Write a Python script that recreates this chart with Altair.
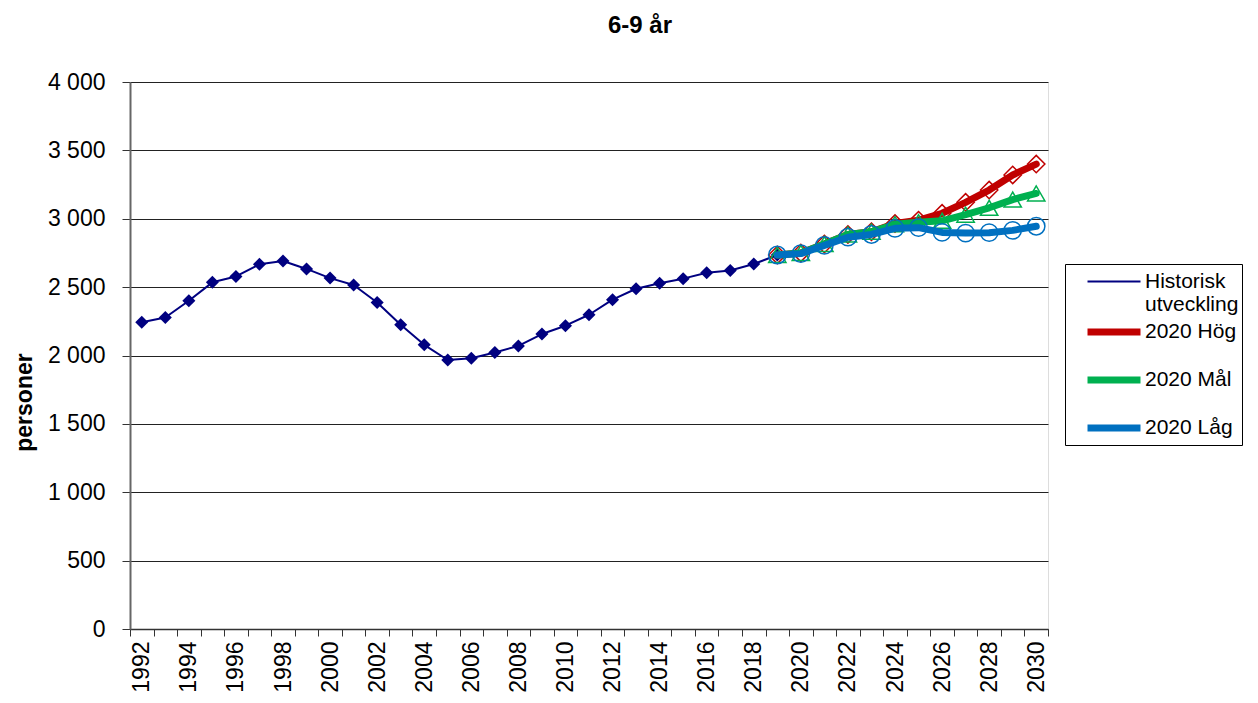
import altair as alt
import pandas as pd

hist_years = list(range(1992, 2020))
hist_values = [2243, 2278, 2400, 2535, 2578, 2667, 2691, 2633, 2566, 2516,
               2388, 2225, 2078, 1967, 1980, 2022, 2070, 2157, 2218, 2298,
               2408, 2488, 2528, 2562, 2605, 2622, 2669, 2735]

proj_years = list(range(2019, 2031))
hog_values = [2735, 2750, 2815, 2885, 2905, 2965, 2990, 3040, 3120, 3210, 3320, 3400]
mal_values = [2735, 2750, 2815, 2885, 2905, 2960, 2975, 2985, 3030, 3080, 3140, 3185]
lag_values = [2735, 2745, 2805, 2865, 2885, 2930, 2935, 2900, 2895, 2898, 2915, 2945]

all_years = [str(y) for y in range(1992, 2031)]
series_names = ["Historisk utveckling", "2020 Hög", "2020 Mål", "2020 Låg"]
series_colors = ["#000080", "#C00000", "#00B050", "#0070C0"]
series_widths = [2, 7, 7, 7]

rows = []
for y, v in zip(hist_years, hist_values):
    rows.append({"year": str(y), "value": v, "series": series_names[0]})
for name, vals in zip(series_names[1:], [hog_values, mal_values, lag_values]):
    for y, v in zip(proj_years, vals):
        rows.append({"year": str(y), "value": v, "series": name})
df = pd.DataFrame(rows)

FONT = "Liberation Sans"

x_enc = alt.X(
    "year:O",
    scale=alt.Scale(type="band", domain=all_years, paddingInner=0, paddingOuter=0),
    bandPosition=0.5,
    axis=alt.Axis(
        title=None,
        labelAngle=270,
        labelExpr="parseInt(datum.value) % 2 == 0 ? datum.value : ''",
        tickBand="extent",
        tickSize=7,
        tickColor="#333",
        domainColor="#333",
        domainWidth=1.5,
        labelFontSize=23,
        labelFont=FONT,
        labelColor="#000",
        labelPadding=5,
        labelAlign="right",
        labelBaseline="middle",
        grid=False,
    ),
)

y_enc = alt.Y(
    "value:Q",
    scale=alt.Scale(domain=[0, 4000], nice=False, zero=True),
    axis=alt.Axis(
        title="personer",
        titleFont=FONT,
        titleFontSize=23,
        titleFontWeight="bold",
        titleColor="#000",
        titleAngle=270,
        titleX=-106,
        titleY=320,
        titleAlign="center",
        titleBaseline="middle",
        values=[0, 500, 1000, 1500, 2000, 2500, 3000, 3500, 4000],
        labelExpr="replace(format(datum.value, ','), ',', ' ')",
        labelFontSize=23,
        labelFont=FONT,
        labelColor="#000",
        labelPadding=17,
        tickSize=8,
        tickColor="#333",
        domainColor="#666",
        domainWidth=2,
        grid=True,
        gridColor="#222",
        gridWidth=1,
    ),
)

color_enc = alt.Color(
    "series:N",
    scale=alt.Scale(domain=series_names, range=series_colors),
    legend=alt.Legend(
        title=None,
        orient="none",
        legendX=935,
        legendY=182,
        strokeColor="#000",
        padding=3,
        fillColor="white",
        labelFont=FONT,
        labelFontSize=21,
        labelColor="#000",
        labelLimit=300,
        symbolType="M-2,0H2",
        symbolSize=702,
        symbolOffset=29,
        rowPadding=0,
        gridAlign="all",
        labelOffset=14,
        labelExpr="datum.label == 'Historisk utveckling' ? ['Historisk', 'utveckling'] : datum.label",
    ),
)
sw_enc = alt.StrokeWidth(
    "series:N",
    scale=alt.Scale(type="ordinal", domain=series_names, range=series_widths),
)

base = alt.Chart(df)

def line_layer(name):
    return base.transform_filter(alt.datum.series == name).mark_line(
        strokeCap="round", strokeJoin="round"
    ).encode(x=x_enc, y=y_enc, color=color_enc, strokeWidth=sw_enc)

hist_pts = base.transform_filter(alt.datum.series == series_names[0]).mark_point(
    shape="diamond", filled=True, size=170, opacity=1
).encode(x=x_enc, y=y_enc, color=alt.value("#000080"))

def proj_pts(name, shape, color):
    return base.transform_filter(alt.datum.series == name).mark_point(
        shape=shape, filled=False, size=300, strokeWidth=1.5, opacity=1
    ).encode(x=x_enc, y=y_enc, color=alt.value(color))

chart = alt.layer(
    line_layer(series_names[0]),
    hist_pts,
    line_layer(series_names[1]),
    proj_pts(series_names[1], "diamond", "#C00000"),
    line_layer(series_names[2]),
    proj_pts(series_names[2], "triangle-up", "#00B050"),
    line_layer(series_names[3]),
    proj_pts(series_names[3], "circle", "#0070C0"),
).properties(
    width=918,
    height=547,
    title=alt.TitleParams(
        "6-9 år", font=FONT, fontSize=24, fontWeight="bold", color="#000",
        anchor="middle", dx=51, offset=33,
    ),
    autosize=alt.AutoSizeParams(type="none"),
    padding={"left": 122, "top": 74, "right": 202, "bottom": 66},
).configure_view(
    stroke="#888", strokeWidth=2
).configure(background="white")

chart.save("out.html", embed_options={"renderer": "svg", "actions": False})
